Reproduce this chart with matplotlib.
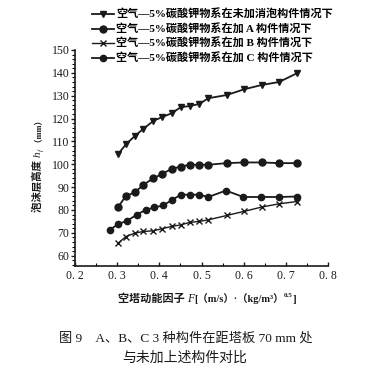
import matplotlib
matplotlib.use("Agg")
import matplotlib.pyplot as plt
from matplotlib.ticker import MultipleLocator

FAM = ['Liberation Serif', 'Noto Sans CJK SC', 'DejaVu Sans']
plt.rcParams['font.family'] = FAM

# ---- data ----
x_main = [0.303, 0.321, 0.342, 0.362, 0.386, 0.406, 0.429, 0.451, 0.473, 0.495,
          0.516, 0.560, 0.601, 0.643, 0.684, 0.726]
y_none = [104.6, 108.8, 112.4, 115.5, 119.0, 120.6, 122.3, 125.0, 125.5, 126.4,
          128.9, 130.3, 132.8, 134.7, 136.0, 139.8]
y_A = [81.5, 86.2, 87.7, 91.0, 93.9, 95.7, 98.0, 99.0, 99.8, 99.8,
       99.8, 100.5, 100.8, 100.8, 100.5, 100.5]
y_B = [65.6, 68.4, 69.9, 70.6, 70.9, 71.8, 72.8, 73.5, 74.6, 75.0,
       75.7, 77.6, 79.4, 81.3, 82.7, 83.7]
x_C = [0.283, 0.303, 0.324, 0.346, 0.368, 0.388, 0.409, 0.431, 0.451, 0.473,
       0.494, 0.516, 0.558, 0.599, 0.641, 0.684, 0.726]
y_C = [71.4, 73.9, 75.3, 77.9, 80.1, 81.1, 82.0, 84.5, 86.7, 86.7,
       86.7, 85.7, 88.5, 85.7, 85.7, 85.7, 85.9]

labels = ["空气—5%碳酸钾物系在未加消泡构件情况下",
          "空气—5%碳酸钾物系在加 A 构件情况下",
          "空气—5%碳酸钾物系在加 B 构件情况下",
          "空气—5%碳酸钾物系在加 C 构件情况下"]
xticks = [0.2, 0.3, 0.4, 0.5, 0.6, 0.7, 0.8]
xticklabels = ["0. 2", "0. 3", "0. 4", "0. 5", "0. 6", "0. 7", "0. 8"]
yticks = [60, 70, 80, 90, 100, 110, 120, 130, 140, 150]

W, H = 365, 369
fig = plt.figure(figsize=(W / 100, H / 100), dpi=100)
ax = fig.add_axes([75 / W, 1 - 266 / H, (328 - 75) / W, (266 - 50) / H])

c = '#1a1a1a'
l1, = ax.plot(x_main, y_none, '-', marker='v', color=c, lw=1.3, ms=4.5, label=labels[0])
l2, = ax.plot(x_main, y_A, '-', marker='o', color=c, lw=1.3, ms=5, label=labels[1])
l3, = ax.plot(x_main, y_B, '-', marker='x', color=c, lw=1.0, ms=4, mew=1.0, label=labels[2])
l4, = ax.plot(x_C, y_C, '-', marker='o', color=c, lw=1.3, ms=4.5, label=labels[3])

ax.set_xlim(0.2, 0.8)
ax.set_ylim(55.5, 150)
ax.set_xticks(xticks)
ax.set_xticklabels(xticklabels)
ax.set_yticks(yticks)
ax.xaxis.set_minor_locator(MultipleLocator(0.05))
ax.yaxis.set_minor_locator(MultipleLocator(2))
ax.tick_params(axis='y', which='major', direction='out', length=3, width=1, pad=1,
               labelsize=8.5, colors=c)
ax.tick_params(axis='y', which='minor', direction='out', length=2, width=0.8)
ax.tick_params(axis='x', which='major', direction='in', length=3, width=1, pad=3,
               labelsize=8.5, colors=c)
ax.tick_params(axis='x', which='minor', direction='in', length=2, width=0.8)
for s in ['top', 'right']:
    ax.spines[s].set_visible(False)
for s in ['left', 'bottom']:
    ax.spines[s].set_linewidth(1.2)
    ax.spines[s].set_color(c)

renderer = fig.canvas.get_renderer()


def pieces_text(cx, cy, pieces, vertical=False):
    """pieces: (string, size, style, weight, baseline offset px). centered at (cx, cy) px."""
    objs = []
    total = 0
    for s, size, style, weight, off in pieces:
        t = fig.text(0, 0, s, fontsize=size, style=style, fontweight=weight, color=c,
                     family=FAM, ha='left', va='baseline', rotation=90 if vertical else 0,
                     rotation_mode='anchor', transform=None)
        ext = t.get_window_extent(renderer)
        adv = ext.height if vertical else ext.width
        objs.append((t, adv, off))
        total += adv
    pos = -total / 2
    for t, adv, off in objs:
        if vertical:
            t.set_position((cx + off, cy + pos))
        else:
            t.set_position((cx + pos, cy + off))
        pos += adv


# y label (vertical, baseline on the right)
pieces_text(41, H - 164, [
    ("泡沫层高度 ", 7.5, 'normal', 'bold', 0),
    ("h", 8, 'italic', 'normal', 0),
    ("f", 5, 'italic', 'normal', 1.5),
    (" （mm）", 6, 'normal', 'bold', 0),
], vertical=True)

# x label
pieces_text(207, H - 302, [
    ("空塔动能因子 ", 8, 'normal', 'bold', 0),
    ("F", 8.5, 'italic', 'normal', 0),
    ("[（m/s）·（kg/m³）", 7.5, 'normal', 'bold', 0),
    ("0.5", 5, 'normal', 'bold', 5),
    ("]", 8, 'normal', 'bold', 0),
])

fig.text(186 / W, 1 - 338 / H, "图 9　A、B、C 3 种构件在距塔板 70 mm 处",
         ha='center', va='center', fontsize=9.5, color=c)
fig.text(185 / W, 1 - 358 / H, "与未加上述构件对比",
         ha='center', va='center', fontsize=10, color=c)

fig.legend(handles=[l1, l2, l3, l4], loc='upper left',
           bbox_to_anchor=(92 / W, 1 - 9 / H), frameon=False,
           prop={'family': FAM, 'weight': 'bold', 'size': 8},
           handlelength=2.0, handletextpad=0.2, labelspacing=0.32,
           borderpad=0, borderaxespad=0)

fig.savefig("out.png", dpi=100)
